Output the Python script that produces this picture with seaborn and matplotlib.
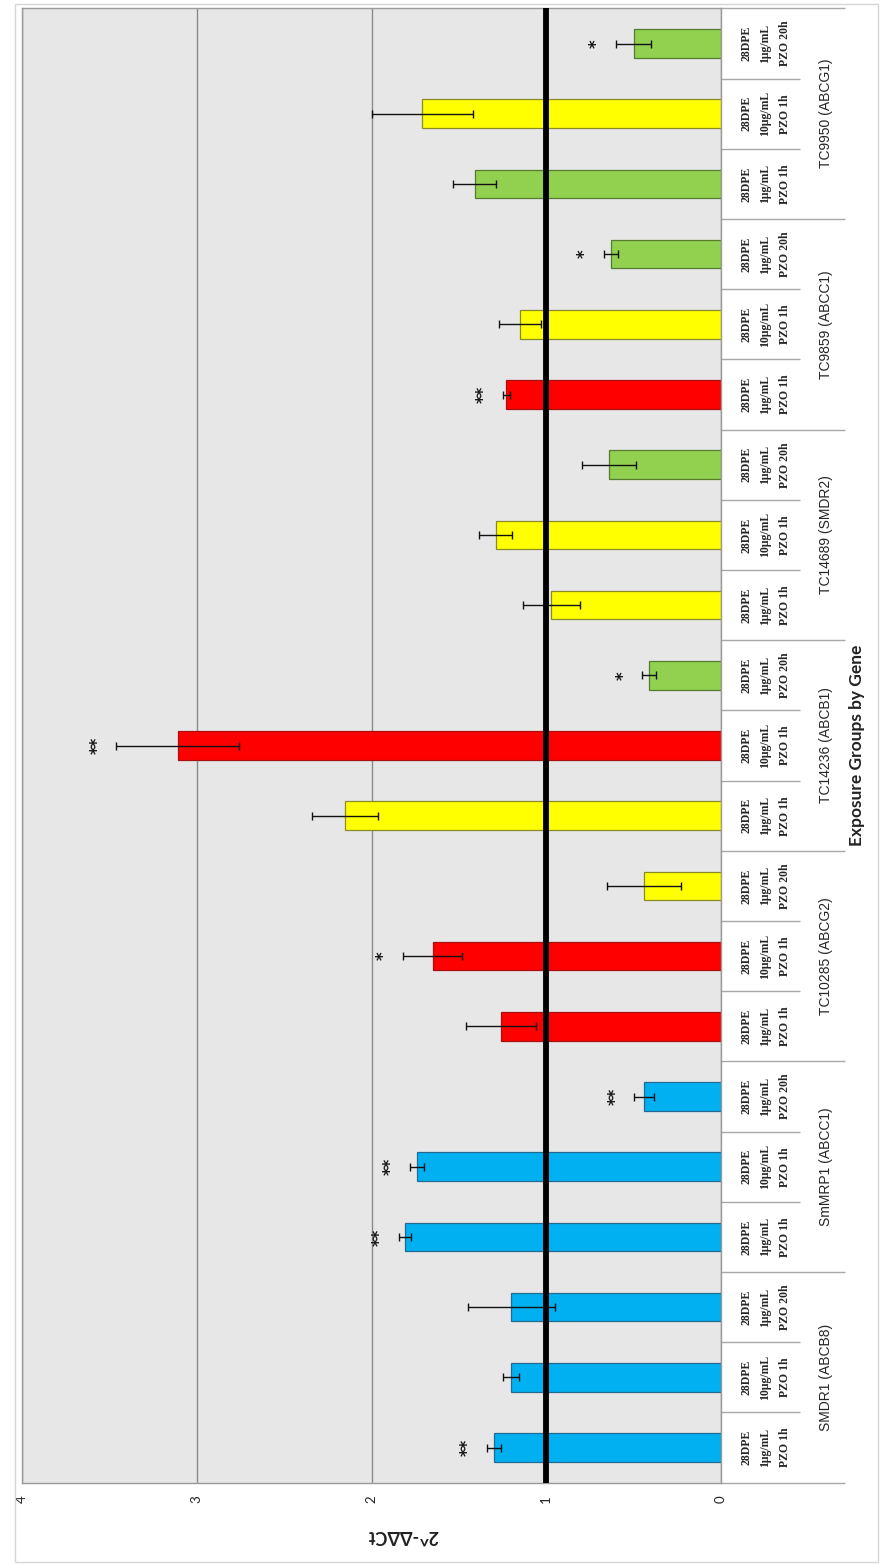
import numpy as np
import pandas as pd
import matplotlib
matplotlib.use("Agg")
import matplotlib.pyplot as plt
import seaborn as sns
from matplotlib.patches import Rectangle

# ---- data -------------------------------------------------------------
genes = ["SMDR1 (ABCB8)", "SmMRP1 (ABCC1)", "TC10285 (ABCG2)",
         "TC14236 (ABCB1)", "TC14689 (SMDR2)", "TC9859 (ABCC1)",
         "TC9950 (ABCG1)"]
stage = "28DPE"
doses = ["1μg/mL", "10μg/mL", "1μg/mL"]
times = ["PZO 1h", "PZO 1h", "PZO 20h"]

fold_change = [1.30, 1.20, 1.20,
               1.81, 1.74, 0.44,
               1.26, 1.65, 0.44,
               2.15, 3.11, 0.41,
               0.97, 1.29, 0.64,
               1.23, 1.15, 0.63,
               1.41, 1.71, 0.50]
sem = [0.04, 0.045, 0.25,
       0.035, 0.04, 0.055,
       0.20, 0.17, 0.21,
       0.19, 0.35, 0.04,
       0.165, 0.095, 0.155,
       0.02, 0.12, 0.04,
       0.125, 0.29, 0.10]
bar_colors = ["blue", "blue", "blue",
              "blue", "blue", "blue",
              "red", "red", "yellow",
              "yellow", "red", "green",
              "yellow", "yellow", "green",
              "red", "yellow", "green",
              "green", "yellow", "green"]
significance = ["**", "", "",
                "**", "**", "**",
                "", "*", "",
                "", "**", "*",
                "", "", "",
                "**", "", "*",
                "", "", "*"]
value_ticks = [0, 1, 2, 3, 4]

fill = {"blue": "#00b0f0", "red": "#ff0000", "yellow": "#ffff00", "green": "#92d050"}
edge = {"blue": "#24698f", "red": "#a81010", "yellow": "#8a8a2a", "green": "#557a30"}

keys = [f"{g} | {d} {t}" for g in genes for d, t in zip(doses, times)]
df = pd.DataFrame({"key": keys, "value": fold_change, "sem": sem,
                   "color": bar_colors, "sig": significance})

# ---- figure -----------------------------------------------------------
sns.set_theme(style="white")
plt.rcParams["font.family"] = ["Lato", "DejaVu Sans"]

W, H = 882, 1564
fig = plt.figure(figsize=(W / 100, H / 100), dpi=100)
left_px, right_px, top_px, bot_px = 22, 721, 8.4, 1482.6
ax = fig.add_axes([left_px / W, 1 - bot_px / H,
                   (right_px - left_px) / W, (bot_px - top_px) / H])


def ax_x(px):
    return (px - left_px) / (right_px - left_px)


order = keys[::-1]          # first gene group at the bottom
palette = {k: fill[c] for k, c in zip(keys, bar_colors)}
sns.barplot(data=df, x="value", y="key", hue="key", order=order,
            hue_order=keys, palette=palette, width=0.41, orient="h",
            errorbar=None, legend=False, ax=ax, zorder=2,
            saturation=1)
for cont, c in zip(ax.containers, bar_colors):
    for bar in cont:
        bar.set_edgecolor(edge[c])
        bar.set_linewidth(0.9)

ypos = np.array([order.index(k) for k in keys])
ax.errorbar(df["value"], ypos, xerr=df["sem"], fmt="none", ecolor="#111111",
            elinewidth=1, capsize=3, capthick=1, zorder=4)

for v, e, y, s in zip(df["value"], df["sem"], ypos, df["sig"]):
    if s:
        ax.annotate(s, xy=(v + e, y), xytext=(-19, 0),
                    textcoords="offset pixels", rotation=90,
                    ha="center", va="center", fontsize=12,
                    fontweight="bold", color="#1a1a1a",
                    family="DejaVu Sans", zorder=5)

ax.axvline(1, color="black", lw=4.2, zorder=6)

ax.set_xlim(4, 0)
ax.set_ylim(len(keys) - 0.5, -0.5)
ax.set_facecolor("#e7e7e7")
ax.set_xticks(value_ticks)
ax.set_xticklabels([str(t) for t in value_ticks])
ax.grid(axis="x", color="#8a8a8a", lw=1)
ax.grid(axis="y", visible=False)
ax.set_axisbelow(True)
ax.set_yticks([])
ax.set_ylabel("")
for sp in ax.spines.values():
    sp.set_color("#9a9a9a")
    sp.set_linewidth(1)
ax.tick_params(axis="x", labelrotation=90, length=4, width=1,
               color="#9a9a9a", pad=5, labelsize=9.5, labelcolor="#222222")

ax.set_xlabel("2^-ΔΔCt", rotation=180, fontsize=13, fontweight="bold",
              color="#222222")
ax.xaxis.set_label_coords(ax_x(403), -(1536 - bot_px) / (bot_px - top_px))
ax.xaxis.label.set_va("center")

# ---- multi-level category axis (right side) ---------------------------
ytr = ax.get_yaxis_transform()
line_px = [746, 765.5, 785]
for k, y in zip(keys, ypos):
    gi = keys.index(k) % 3
    for txt, px in zip([stage, doses[gi], times[gi]], line_px):
        ax.text(ax_x(px), y, txt, transform=ytr, rotation=90,
                ha="center", va="center", fontsize=8.5, fontweight="bold",
                family=["Liberation Serif", "DejaVu Serif"],
                color="#262626", clip_on=False)

for b in range(len(keys) + 1):
    yb = b - 0.5
    end_px = 845 if b % 3 == 0 else 800
    ax.plot([1, ax_x(end_px)], [yb, yb], transform=ytr, color="#a8a8a8",
            lw=1, clip_on=False, solid_capstyle="butt")

for gi, g in enumerate(genes):
    yc = ypos[gi * 3: gi * 3 + 3].mean()
    ax.text(ax_x(826), yc, g, transform=ytr, rotation=90, ha="center",
            va="center", fontsize=10,
            family=["Liberation Sans Narrow", "Liberation Sans", "DejaVu Sans"],
            color="#262626", clip_on=False)

ax.text(ax_x(857), 0.5, "Exposure Groups by Gene", transform=ax.transAxes,
        rotation=90, ha="center", va="center", fontsize=12.5,
        fontweight="bold", color="#222222", clip_on=False)

fig.patches.append(Rectangle((15 / W, 1 - 1562 / H), (878 - 15) / W,
                             (1562 - 4) / H, transform=fig.transFigure,
                             fill=False, ec="#d6d6d6", lw=1))

fig.savefig("out.png", dpi=100)
